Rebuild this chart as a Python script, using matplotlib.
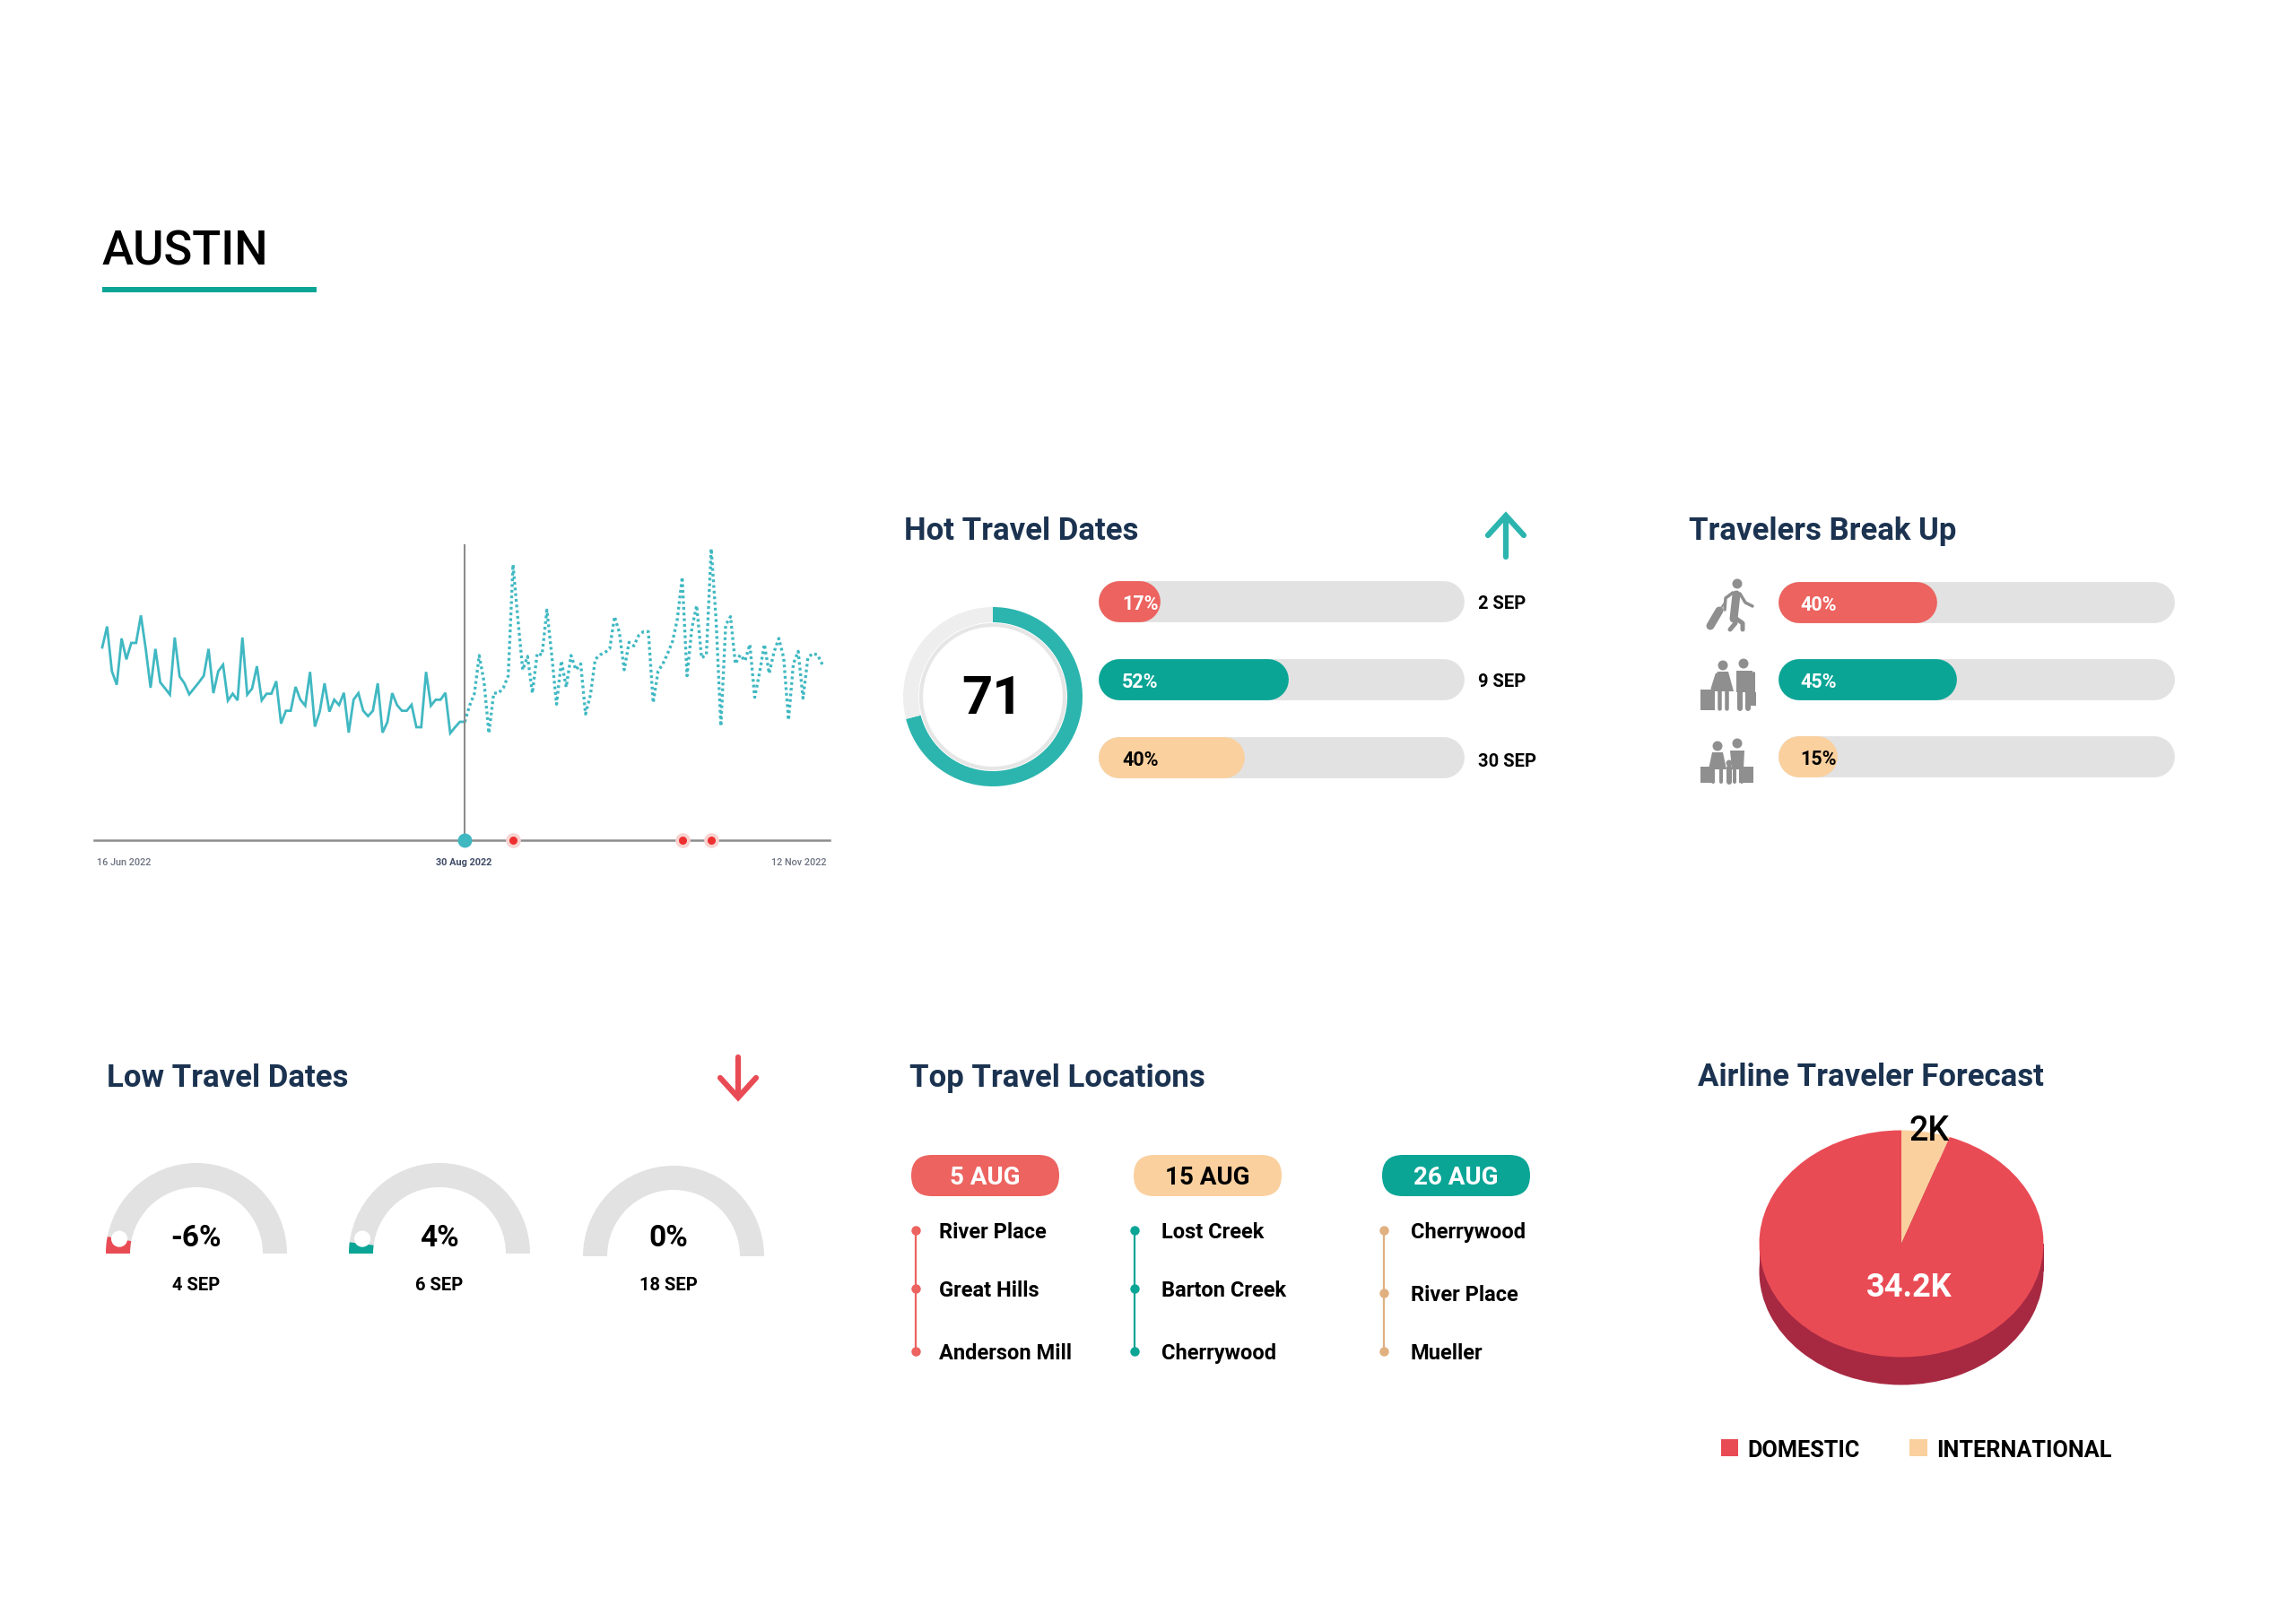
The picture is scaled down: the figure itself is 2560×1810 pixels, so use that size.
# -*- coding: utf-8 -*-
import matplotlib
matplotlib.use("Agg")
import matplotlib.pyplot as plt
from matplotlib.patches import Circle, Wedge, Rectangle, Polygon, FancyBboxPatch
import numpy as np

plt.rcParams['font.family'] = ['Roboto', 'DejaVu Sans']

W, H = 2560, 1810

#-----------------------------------------------------------------------------#
# DATA
#-----------------------------------------------------------------------------#
# daily values, 16 Jun -> 30 Aug (solid), 30 Aug -> 12 Nov (forecast, dotted)
actual = [64.5, 71.5, 56.5, 52, 67.5, 60.5, 66, 66, 75.2, 64, 51, 64, 52.8, 50.8, 48.7,
          67.8, 54.8, 52.5, 48.8, 50.8, 52.8, 55, 64, 49.2, 56.5, 58.7, 46.7, 49, 46.8,
          67.8, 48.7, 50.7, 58.2, 46.8, 49, 49, 53.2, 39, 43.3, 43.3, 51.3, 47, 45, 56.3,
          38, 43, 52.5, 43, 47, 45.2, 49.3, 36, 47, 49.2, 43.3, 41.5, 43.3, 52.5, 36, 39.5,
          49.2, 45.2, 43.3, 43.3, 45.3, 37.8, 37.8, 56.3, 45, 47, 47, 49.3, 35.8, 37.8, 39.6,
          39.6]
forecast = [39.6, 45, 49, 61.8, 53, 35.8, 49.2, 49.2, 51, 55, 92.2, 74, 57, 61.5, 49.2, 62.5,
            62, 77, 62, 45.5, 60, 51.2, 61.8, 57, 59, 42.2, 48.5, 60.5, 62, 62.8, 64, 74.8,
            69.5, 57, 66.2, 65, 68.5, 69.8, 69.8, 46, 56.5, 59, 62.5, 66.5, 74, 88, 55, 71,
            78.5, 61, 62, 97.5, 74, 38.2, 72, 74.8, 59, 62, 60, 65.5, 47.8, 56, 65.5, 55.8,
            63, 67.5, 61, 40.2, 59, 63.2, 47.5, 61, 62.5, 62, 58.8]
event_days = [85, 120, 126]
date_labels = ["16 Jun 2022", "30 Aug 2022", "12 Nov 2022"]

hot_score = 71
hot_values = [17, 52, 40]
hot_dates = ["2 SEP", "9 SEP", "30 SEP"]

traveler_values = [40, 45, 15]

low_values = [-6, 4, 0]
low_dates = ["4 SEP", "6 SEP", "18 SEP"]

loc_dates = ["5 AUG", "15 AUG", "26 AUG"]
loc_names = [["River Place", "Great Hills", "Anderson Mill"],
             ["Lost Creek", "Barton Creek", "Cherrywood"],
             ["Cherrywood", "River Place", "Mueller"]]

pie_values = [2, 34.2]
pie_labels = ["2K", "34.2K"]
legend_names = ["DOMESTIC", "INTERNATIONAL"]

#-----------------------------------------------------------------------------#
# COLOURS
#-----------------------------------------------------------------------------#
NAVY = '#1B3350'
TEAL = '#0BA596'
TEAL2 = '#2BB5AE'
LINE = '#40B8C2'
CORAL = '#EC635F'
PEACH = '#FAD09E'
TAN = '#E0B080'
RED = '#E94B55'
DARKRED = '#A72941'
TRACK = '#E2E2E2'
ICON = '#8F8F8F'

fig = plt.figure(figsize=(W/100, H/100), dpi=100, facecolor='white')


def px_axes(x0, y0, x1, y1):
    # axes from a box in picture pixels (y going down)
    ax = fig.add_axes([x0/W, 1-y1/H, (x1-x0)/W, (y1-y0)/H])
    ax.patch.set_alpha(0)
    return ax


# overlay in pixel coords for text and icons
ov = px_axes(0, 0, W, H)
ov.set_xlim(0, W)
ov.set_ylim(H, 0)
ov.axis('off')
ov.set_zorder(10)


def label(x, y, s, size, color='black', ha='left', weight=500, **kw):
    # +2.5: Roboto sits a little high compared with the reference font
    ov.text(x, y+2.5, s, fontsize=size, color=color, ha=ha, va='center', fontweight=weight, **kw)


#-----------------------------------------------------------------------------#
# HEADER
#-----------------------------------------------------------------------------#
label(114, 279, "AUSTIN", 38, weight=500)
ov.add_patch(Rectangle((114, 320), 239, 6, color=TEAL, lw=0))

for x, y, s in [(1008, 590, "Hot Travel Dates"), (1883, 590, "Travelers Break Up"),
                (119, 1200, "Low Travel Dates"), (1014, 1200, "Top Travel Locations"),
                (1893, 1199, "Airline Traveler Forecast")]:
    label(x, y, s, 25, color=NAVY, weight=700)

# arrows
ov.plot([1679, 1679], [621, 577], color=TEAL2, lw=4.5, solid_capstyle='round')
ov.plot([1659, 1679, 1699], [597, 575, 597], color=TEAL2, lw=4.5,
        solid_capstyle='round', solid_joinstyle='miter')
ov.plot([823, 823], [1179, 1222], color=RED, lw=4.5, solid_capstyle='round')
ov.plot([803, 823, 843], [1202, 1224, 1202], color=RED, lw=4.5,
        solid_capstyle='round', solid_joinstyle='miter')

#-----------------------------------------------------------------------------#
# LINE CHART
#-----------------------------------------------------------------------------#
ax = px_axes(105, 607, 925, 937)
ax.set_xlim(-1.67, 150.5)
ax.set_ylim(0, 99)
days_a = np.arange(len(actual))
days_f = np.arange(len(forecast)) + len(actual) - 1
ax.plot(days_a, actual, color=LINE, lw=2.0, solid_joinstyle='miter')
ax.plot(days_f, forecast, color=LINE, lw=2.4, linestyle=(0, (0.9, 1.0)))
ax.axvline(days_f[0], color='#8C8C8C', lw=1.5)
for s in ['top', 'left', 'right']:
    ax.spines[s].set_visible(False)
ax.spines['bottom'].set_color('#8C8C8C')
ax.spines['bottom'].set_linewidth(1.8)
ax.set_yticks([])
ax.set_xticks([])
ax.plot(days_f[0], 0, 'o', color=LINE, ms=11.5, mew=0, clip_on=False, zorder=5)
ax.plot(event_days, [0]*3, 'o', color='#F7D3D0', ms=12, mew=0, clip_on=False, zorder=5)
ax.plot(event_days, [0]*3, 'o', color='#EE2F2F', ms=6.5, mew=0, clip_on=False, zorder=6)
label(108, 959, date_labels[0], 7.8, color='#6B7280', weight=500)
label(517, 959, date_labels[1], 7.8, color='#3F4A66', ha='center', weight=700)
label(922, 959, date_labels[2], 7.8, color='#6B7280', ha='right', weight=500)


#-----------------------------------------------------------------------------#
# PILL BARS
#-----------------------------------------------------------------------------#
def pill_bars(x0, x1, y_first, y_step, values, colors, textcolors, text_x):
    ax = px_axes(x0, y_first-y_step/2, x1, y_first+2.5*y_step)
    ax.set_xlim(0, 100)
    ax.set_ylim(2.5, -0.5)
    ax.axis('off')
    r = 23/(x1-x0)*100
    for i, v in enumerate(values):
        ax.plot([r, 100-r], [i, i], color=TRACK, lw=33, solid_capstyle='round')
        ax.plot([r, max(v-r, r+0.01)], [i, i], color=colors[i], lw=33, solid_capstyle='round')
        label(text_x, y_first+i*y_step, "%d%%" % v, 15.5, color=textcolors[i], weight=700)


bar_cols = [CORAL, TEAL, PEACH]
bar_text = ['white', 'white', 'black']
pill_bars(1225, 1633, 671, 87, hot_values, bar_cols, bar_text, 1251)
pill_bars(1983, 2425, 672, 86, traveler_values, bar_cols, bar_text, 2007)

for y, s in zip([671, 758, 847], hot_dates):
    label(1648, y, s, 14.5, weight=700)

# score ring
ax = px_axes(1007, 677, 1207, 877)
ax.pie([hot_score, 100-hot_score], radius=1, startangle=90, counterclock=False,
       colors=[TEAL2, '#EEEEEE'], wedgeprops=dict(width=0.17))
ax.add_patch(Circle((0, 0), 0.8, fill=False, ec='#E6E6E6', lw=3))
ax.set_xlim(-1, 1)
ax.set_ylim(-1, 1)
label(1107, 777, str(hot_score), 43, ha='center', weight=700)


#-----------------------------------------------------------------------------#
# ICONS
#-----------------------------------------------------------------------------#
def stroke(xs, ys, w):
    ov.plot(xs, ys, color=ICON, lw=w*0.72, solid_capstyle='round', solid_joinstyle='round')


def head(x, y, r):
    ov.add_patch(Circle((x, y), r, color=ICON, lw=0))


def block(x0, y0, x1, y1):
    ov.add_patch(Rectangle((x0, y0), x1-x0, y1-y0, color=ICON, lw=0))


# walker with suitcase
head(1937, 651, 5.5)
stroke([1936, 1933], [663, 690], 9)
stroke([1932, 1924, 1923], [661, 667, 680], 3.5)
stroke([1940, 1946, 1954], [662, 672, 676], 3.5)
stroke([1933, 1935, 1929], [690, 695, 702], 5)
stroke([1936, 1943, 1943], [690, 695, 702], 5)
stroke([1907, 1917], [698, 681], 9)
stroke([1917, 1923], [681, 672], 2)

# couple with bags
head(1921, 742, 5.5)
head(1944, 740, 5.5)
ov.add_patch(Polygon([(1915, 749), (1927, 749), (1933, 771), (1908, 771)], color=ICON, lw=0))
stroke([1917, 1917], [770, 790], 4.5)
stroke([1925, 1925], [770, 790], 4.5)
block(1936, 748, 1954, 772)
stroke([1940, 1940], [770, 790], 6)
stroke([1949, 1949], [770, 790], 6)
stroke([1914, 1909], [752, 768], 3)
stroke([1955, 1955], [750, 772], 3)
block(1896, 769, 1912, 792)
block(1951, 772, 1958, 787)

# family with bags
head(1915, 832, 5.5)
head(1937, 829, 5.5)
ov.add_patch(Polygon([(1909, 839), (1921, 839), (1925, 858), (1905, 858)], color=ICON, lw=0))
ov.add_patch(Polygon([(1929, 837), (1945, 837), (1944, 858), (1931, 858)], color=ICON, lw=0))
stroke([1910, 1910], [857, 872], 4)
stroke([1919, 1919], [857, 872], 4)
stroke([1934, 1934], [857, 872], 4)
stroke([1942, 1942], [857, 872], 4)
head(1928, 851, 3.5)
stroke([1928, 1928], [856, 872], 6)
block(1896, 855, 1912, 873)
block(1939, 855, 1955, 873)


#-----------------------------------------------------------------------------#
# GAUGES
#-----------------------------------------------------------------------------#
gauge_x = [219, 490, 751]
gauge_y = [1398, 1398, 1401]
gauge_text_x = [219, 490, 745]
gauge_r = 101
band = 27/gauge_r
for cx, cy, tx, v, d in zip(gauge_x, gauge_y, gauge_text_x, low_values, low_dates):
    ax = px_axes(cx-gauge_r, cy-gauge_r, cx+gauge_r, cy)
    ax.set_xlim(-1, 1)
    ax.set_ylim(0, 1)
    ax.axis('off')
    ax.add_patch(Wedge((0, 0), 1, 0, 180, width=band, color=TRACK, lw=0))
    if v != 0:
        col = RED if v < 0 else TEAL
        ax.add_patch(Wedge((0, 0), 1, 180-abs(v)*1.8, 180, width=band, color=col, lw=0))
        knob = np.radians(180-10.8)
        ax.add_patch(Circle(((1-band/2)*np.cos(knob), (1-band/2)*np.sin(knob)), 0.09,
                            color='white', lw=0))
    label(tx, 1378, "%d%%" % v, 24, ha='center', weight=700)
    label(tx, 1431, d, 14.5, ha='center', weight=700)

#-----------------------------------------------------------------------------#
# TOP LOCATIONS
#-----------------------------------------------------------------------------#
pill_x = [1016, 1264, 1541]
pill_cols = [CORAL, PEACH, TEAL]
pill_text = ['white', 'black', 'white']
dot_x = [1021, 1265, 1543]
dot_cols = [CORAL, TEAL, TAN]
dot_y = [[1372, 1437, 1507], [1372, 1437, 1507], [1372, 1442, 1507]]
name_x = [1047, 1295, 1573]
for i in range(3):
    ov.add_patch(FancyBboxPatch((pill_x[i], 1288), 165, 46, boxstyle="round,pad=0,rounding_size=23",
                                fc=pill_cols[i], ec='none'))
    label(pill_x[i]+82.5, 1311, loc_dates[i], 20, color=pill_text[i], ha='center', weight=700)
    ov.plot([dot_x[i]]*3, dot_y[i], color=dot_cols[i], lw=1.6, marker='o', ms=7.5, mew=0)
    for y, name in zip(dot_y[i], loc_names[i]):
        label(name_x[i], y, name, 17, weight=700)

#-----------------------------------------------------------------------------#
# PIE
#-----------------------------------------------------------------------------#
rx, ry, depth = 158.5, 126.5, 31
cx, cy = 2120, 1387
d = depth/ry
ax = px_axes(cx-rx, cy-ry, cx+rx, cy+ry+depth)
ax.pie([1], radius=1, center=(0, -d), colors=[DARKRED])
ax.add_patch(Rectangle((-1, -d), 2, d, color=DARKRED, lw=0))
ax.pie(pie_values, radius=1, startangle=90, counterclock=False, colors=[PEACH, RED])
ax.set_aspect('auto')
ax.set_xlim(-1, 1)
ax.set_ylim(-1-d, 1)
label(2151, 1259, pie_labels[0], 27, ha='center')
label(2129, 1433, pie_labels[1], 26, color='white', ha='center', weight=700)

ov.add_patch(Rectangle((1919, 1605), 19, 19, color=RED, lw=0))
label(1948, 1615, legend_names[0], 18.2, weight=700)
ov.add_patch(Rectangle((2129, 1605), 20, 19, color=PEACH, lw=0))
label(2159, 1615, legend_names[1], 18.2, weight=700)

fig.savefig('out.png', dpi=100, facecolor='white')
